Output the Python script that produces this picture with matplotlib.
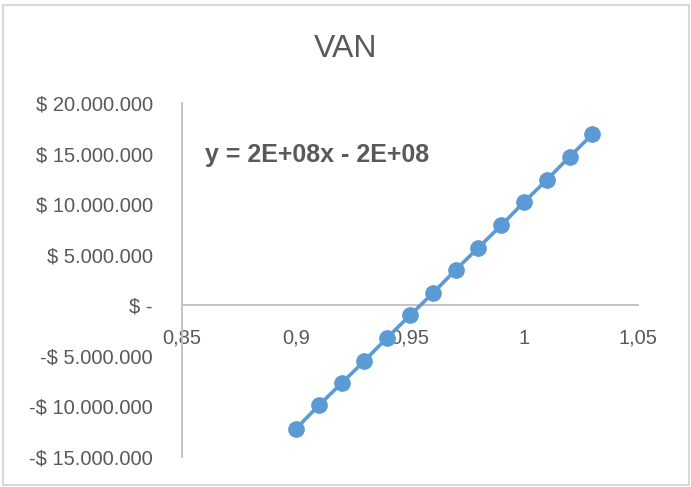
import matplotlib.pyplot as plt
from matplotlib.patches import Rectangle
from matplotlib.ticker import FuncFormatter

# tasa / factor vs VAN
x_vals = [0.90, 0.91, 0.92, 0.93, 0.94, 0.95, 0.96, 0.97, 0.98, 0.99, 1.00, 1.01, 1.02, 1.03]
van = [-12.2e6, -9.9e6, -7.7e6, -5.5e6, -3.2e6, -1.0e6, 1.2e6, 3.5e6,
       5.7e6, 7.9e6, 10.2e6, 12.4e6, 14.7e6, 16.9e6]
x_ticks = [0.85, 0.9, 0.95, 1.0, 1.05]
x_ticklabels = ["0,85", "0,9", "0,95", "1", "1,05"]
y_ticks = [-15e6, -10e6, -5e6, 0, 5e6, 10e6, 15e6, 20e6]
title = "VAN"
trend_label = "y = 2E+08x - 2E+08"

TXT = "#595959"
BLUE = "#5B9BD5"
plt.rcParams["font.family"] = ["Liberation Sans", "DejaVu Sans"]


def money(v, pos=None):
    if v == 0:
        return "$ -"
    s = f"{abs(v):,.0f}".replace(",", ".")
    return f"-$ {s}" if v < 0 else f"$ {s}"


fig = plt.figure(figsize=(6.91, 4.87), dpi=100)
W, H = 691, 487
ax = fig.add_axes([182 / W, 1 - 457 / H, (638 - 182) / W, (457 - 103) / H])

ax.plot(x_vals, van, "-o", color=BLUE, lw=2.6, ms=11, zorder=3)

ax.set_xlim(0.85, 1.05)
ax.set_ylim(-15e6, 20e6)
ax.set_xticks(x_ticks)
ax.set_xticklabels(x_ticklabels)
ax.set_yticks(y_ticks)
ax.yaxis.set_major_formatter(FuncFormatter(money))

for s in ("top", "right"):
    ax.spines[s].set_visible(False)
ax.spines["left"].set_color("#BFBFBF")
ax.spines["left"].set_linewidth(1.3)
ax.spines["bottom"].set_position(("data", 0))
ax.spines["bottom"].set_color("#BFBFBF")
ax.spines["bottom"].set_linewidth(1.3)
ax.tick_params(axis="both", length=0, labelsize=14.5, colors=TXT)
ax.tick_params(axis="y", pad=21)
ax.tick_params(axis="x", pad=17)
for lbl in ax.get_yticklabels():
    lbl.set_ha("right")

fig.text(346 / W, 1 - 49 / H, title, ha="center", va="center", fontsize=23, color=TXT)
ax.text(0.86, 14.9e6, trend_label, ha="left", va="center", fontsize=18,
        fontweight="bold", color=TXT)

fig.patches.append(Rectangle((2.5 / W, 1 - 485 / H), 686 / W, 480 / H,
                             transform=fig.transFigure, fill=False,
                             edgecolor="#D9D9D9", lw=1.5))

fig.savefig("out.png", dpi=100)
